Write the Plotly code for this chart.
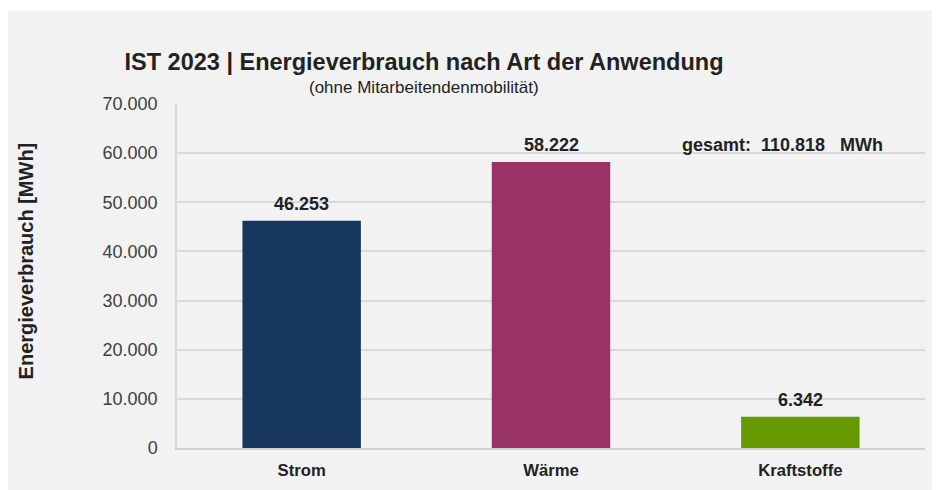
import plotly.graph_objects as go

# Data
categories = ["Strom", "Wärme", "Kraftstoffe"]
values_mwh = [46253, 58222, 6342]
bar_colors = ["#17375e", "#993366", "#669900"]
total_mwh = 110818
y_ticks = [0, 10000, 20000, 30000, 40000, 50000, 60000, 70000]

FONT = "Liberation Sans, Arial, sans-serif"
BG = "#f2f2f2"
GRID = "#d9d9d9"

fig = go.Figure(
    go.Bar(
        x=categories,
        y=values_mwh,
        marker=dict(color=bar_colors, line=dict(width=0)),
        hoverinfo="x+y",
    )
)

# Value labels above the bars
for cat, val in zip(categories, values_mwh):
    fig.add_annotation(
        x=cat, y=val, text=f"<b>{val:,}</b>".replace(",", "."),
        showarrow=False, yanchor="middle", yshift=17,
        font=dict(size=18, color="#222222", family=FONT),
    )

# Subtitle
fig.add_annotation(
    xref="paper", yref="paper", x=0.330, y=1.049,
    text="(ohne Mitarbeitendenmobilität)", showarrow=False,
    xanchor="center", yanchor="middle",
    font=dict(size=17, color="#222222", family=FONT),
)

# Total
total_txt = f"{total_mwh:,}".replace(",", ".")
fig.add_annotation(
    xref="paper", yref="paper", x=0.809, y=0.881,
    text=f"<b>gesamt:\u00a0 {total_txt}\u00a0\u00a0 MWh</b>", showarrow=False,
    xanchor="center", yanchor="middle",
    font=dict(size=18, color="#222222", family=FONT),
)

# Y-axis title
fig.add_annotation(
    xref="paper", yref="paper", x=-0.202, y=0.545,
    text="<b>Energieverbrauch [MWh]</b>", showarrow=False, textangle=-90,
    xanchor="center", yanchor="middle",
    font=dict(size=20, color="#222222", family=FONT),
)

# thin white strip along the top edge
fig.add_shape(type="rect", xref="paper", yref="paper",
              x0=-169 / 748, x1=771 / 748, y0=437 / 344, y1=440 / 344,
              fillcolor="white", line=dict(width=0), layer="above")

fig.update_layout(
    width=940, height=490,
    margin=dict(l=169, r=23, t=96, b=50),
    paper_bgcolor=BG, plot_bgcolor=BG,
    separators=",.",
    bargap=0.525,
    showlegend=False,
    font=dict(family=FONT, color="#404040"),
    title=dict(
        text="<b>IST 2023 | Energieverbrauch nach Art der Anwendung</b>",
        x=416 / 940, y=1 - 54 / 490, xanchor="center", yanchor="middle",
        font=dict(size=23.5, color="#222222", family=FONT),
    ),
)

fig.update_yaxes(
    range=[0, 70000], tickvals=y_ticks, tickformat=",d",
    showgrid=True, gridcolor=GRID, gridwidth=1.5,
    zeroline=False, showline=True, linecolor=GRID, linewidth=1.5,
    ticks="", ticklabelstandoff=14,
    tickfont=dict(size=18, color="#404040", family=FONT),
)
fig.update_xaxes(
    showgrid=False, zeroline=False, showline=True, linecolor="#d0d0d0", linewidth=2,
    ticks="", ticklabelstandoff=6,
    tickfont=dict(size=16.7, color="#222222", family=FONT),
    tickprefix="<b>", ticksuffix="</b>",
)

fig.write_html("out.html")
